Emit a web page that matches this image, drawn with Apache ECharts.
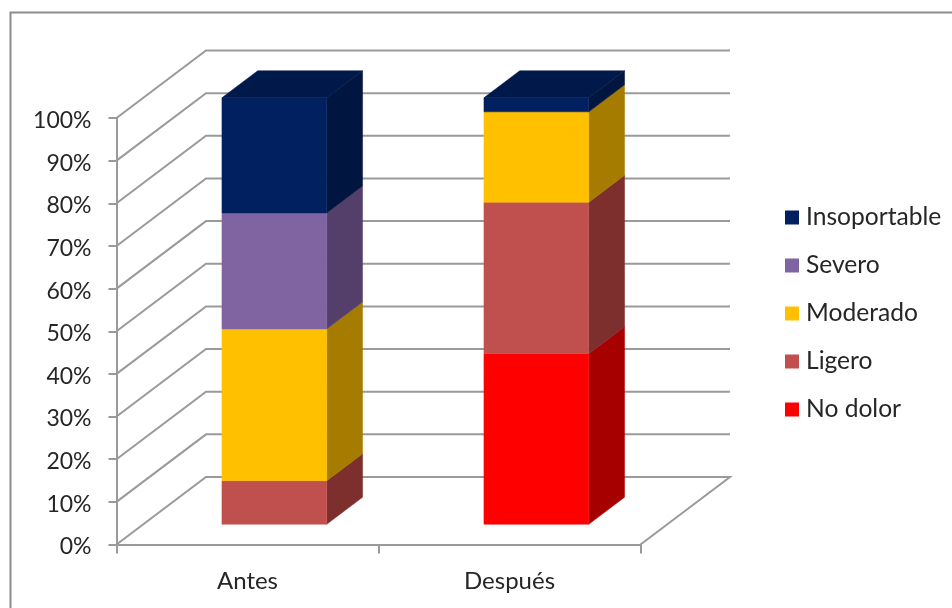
<!DOCTYPE html>
<html>
<head>
<meta charset="utf-8">
<style>html,body{margin:0;padding:0;background:#fff}#chart{width:952px;height:608px}</style>
<script src="https://cdn.jsdelivr.net/npm/echarts@6/dist/echarts.min.js"></script>
</head>
<body>
<div id="chart"></div>
<script>
// Pain level before and after, in percent of patients
const categories = ['Antes', 'Después'];
const noDolor = [0, 40];
const ligero = [10.2, 35.5];
const moderado = [35.6, 21.2];
const severo = [27.2, 0];
const insoportable = [27, 3.3];
const gridTicks = [0, 10, 20, 30, 40, 50, 60, 70, 80, 90, 100];

const stackOrder = [
  { name: 'No dolor', values: noDolor, front: '#FF0000', side: '#A60000', top: '#C00000' },
  { name: 'Ligero', values: ligero, front: '#C0504D', side: '#7D2F2D', top: '#963C3A' },
  { name: 'Moderado', values: moderado, front: '#FFC000', side: '#A67C00', top: '#C79600' },
  { name: 'Severo', values: severo, front: '#8064A2', side: '#543F6B', top: '#644E7F' },
  { name: 'Insoportable', values: insoportable, front: '#002060', side: '#00153F', top: '#00194B' }
];

// Oblique projection of the depth axis
const DEPTH_X = 89.5;
const DEPTH_Y = -67.5;
const BAR_NEAR = 0.3;
const BAR_FAR = 0.7;
const BAR_WIDTH_RATIO = 0.4;
const LINE = '#9A9A9A';
const FONT = 'Lato, "Open Sans", sans-serif';

function solid(points, color) {
  return {
    type: 'polygon',
    shape: { points },
    style: { fill: color, stroke: color, lineWidth: 0.5 }
  };
}

// Back wall rules and the floor outline
function renderWall(params, api) {
  const cs = params.coordSys;
  const y = api.coord([0, api.value(0)])[1];
  const left = cs.x;
  const right = cs.x + cs.width;
  const points = [
    [left, y],
    [left + DEPTH_X, y + DEPTH_Y],
    [right + DEPTH_X, y + DEPTH_Y]
  ];
  if (api.value(0) === 0) points.push([right, y]);
  return {
    type: 'polyline',
    shape: { points },
    style: { fill: null, stroke: LINE, lineWidth: 2 }
  };
}

function barRenderer(layer, seriesIndex) {
  return function (params, api) {
    const idx = api.value(0);
    const low = api.value(1);
    const high = api.value(2);
    if (high <= low) return { type: 'group', children: [] };
    const w = api.size([1, 0])[0] * BAR_WIDTH_RATIO;
    const nearX = DEPTH_X * BAR_NEAR;
    const nearY = DEPTH_Y * BAR_NEAR;
    const baseCenter = api.coord([idx, 0])[0] + nearX;
    const x0 = baseCenter - w / 2;
    const x1 = baseCenter + w / 2;
    const y0 = api.coord([idx, low])[1] + nearY;
    const y1 = api.coord([idx, high])[1] + nearY;
    const dx = DEPTH_X * (BAR_FAR - BAR_NEAR);
    const dy = DEPTH_Y * (BAR_FAR - BAR_NEAR);
    const faces = [
      solid([[x1, y0], [x1 + dx, y0 + dy], [x1 + dx, y1 + dy], [x1, y1]], layer.side),
      solid([[x0, y0], [x1, y0], [x1, y1], [x0, y1]], layer.front)
    ];
    if (seriesIndex === stackOrder.length - 1) {
      faces.push(solid([[x0, y1], [x1, y1], [x1 + dx, y1 + dy], [x0 + dx, y1 + dy]], layer.top));
    }
    return { type: 'group', children: faces };
  };
}

const running = categories.map(() => 0);
const barSeries = stackOrder.map((layer, i) => {
  const data = layer.values.map((v, c) => {
    const start = running[c];
    running[c] += v;
    return [c, start, running[c]];
  });
  return {
    type: 'custom',
    name: layer.name,
    coordinateSystem: 'cartesian2d',
    renderItem: barRenderer(layer, i),
    clip: false,
    z: 3 + i,
    encode: { x: 0, y: [1, 2] },
    itemStyle: { color: layer.front },
    data
  };
});

const chart = echarts.init(document.getElementById('chart'), null, { renderer: 'canvas' });
chart.setOption({
  animation: false,
  backgroundColor: '#fff',
  graphic: [{
    type: 'polyline',
    shape: { points: [[10.5, 608], [10.5, 12.5], [952, 12.5]] },
    style: { fill: null, stroke: '#8C8C8C', lineWidth: 2 }
  }],
  grid: { left: 116.5, top: 118, width: 524, height: 426.5 },
  xAxis: {
    type: 'category',
    data: categories,
    axisLine: { show: true, lineStyle: { color: LINE, width: 2 } },
    axisTick: { show: true, length: 9, lineStyle: { color: LINE, width: 2 } },
    axisLabel: { color: '#262626', fontFamily: FONT, fontSize: 24, margin: 25 }
  },
  yAxis: {
    type: 'value',
    min: 0,
    max: 100,
    interval: 10,
    splitLine: { show: false },
    axisLine: { show: true, lineStyle: { color: LINE, width: 2 } },
    axisTick: { show: true, length: 8, lineStyle: { color: LINE, width: 2 } },
    axisLabel: {
      margin: 25,
      formatter: '{pct|{value}%}',
      rich: { pct: { color: '#262626', fontFamily: FONT, fontSize: 23, padding: [5, 0, 0, 0] } }
    }
  },
  legend: {
    orient: 'vertical',
    left: 780,
    top: 200,
    icon: 'rect',
    itemWidth: 14,
    itemHeight: 14,
    itemGap: 23,
    selectedMode: false,
    data: stackOrder.map(s => s.name).reverse(),
    textStyle: { color: '#262626', fontFamily: FONT, fontSize: 24.6, lineHeight: 24, padding: [0, 0, 0, 2] }
  },
  series: [{
    type: 'custom',
    name: 'wall',
    coordinateSystem: 'cartesian2d',
    renderItem: renderWall,
    clip: false,
    z: 1,
    silent: true,
    encode: { y: 0 },
    data: gridTicks.map(v => [v])
  }].concat(barSeries)
});
</script>
</body>
</html>
